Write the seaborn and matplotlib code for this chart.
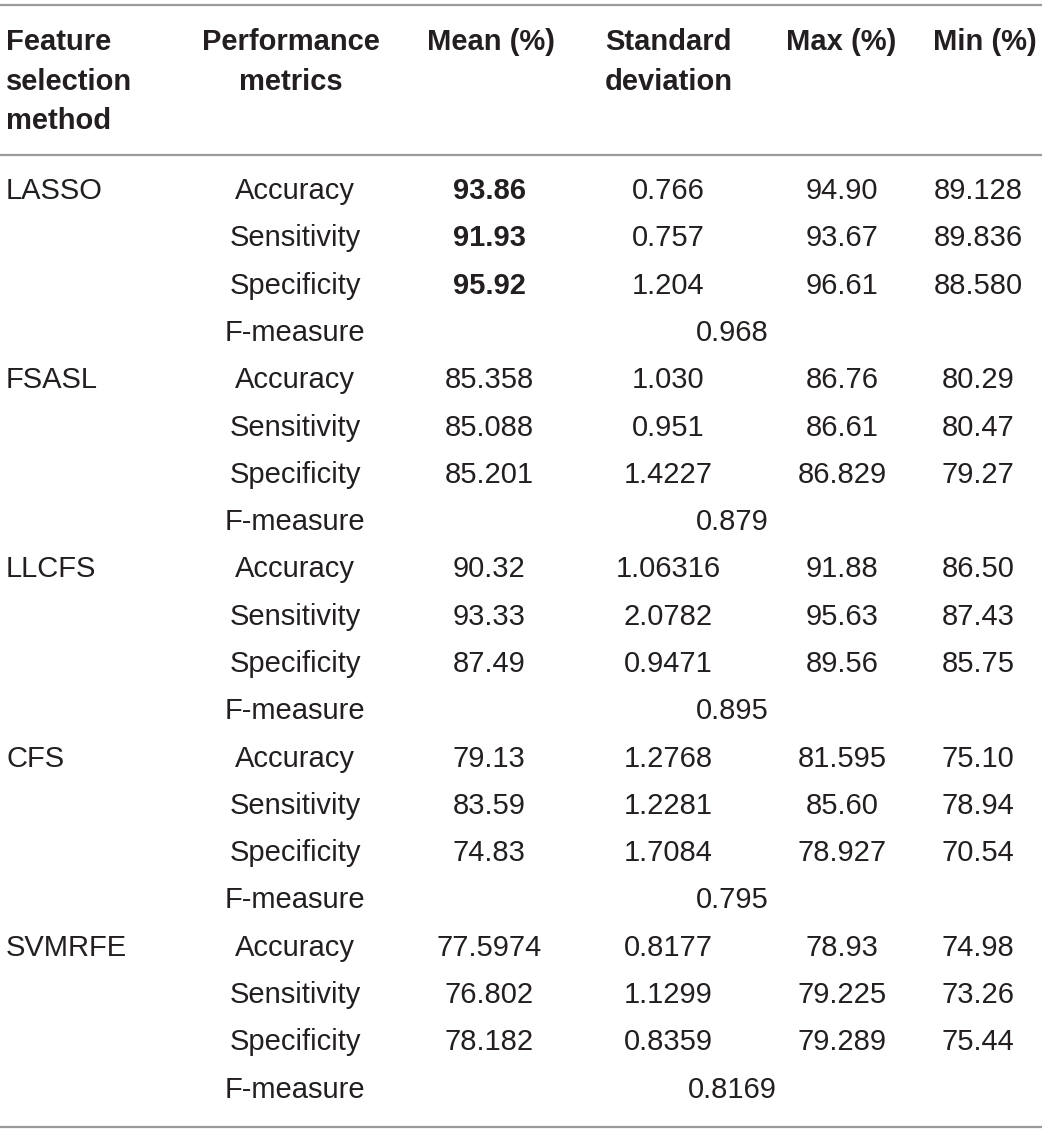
import numpy as np
import matplotlib.pyplot as plt
import seaborn as sns

# table content
methods = ["LASSO", "FSASL", "LLCFS", "CFS", "SVMRFE"]
metrics = ["Accuracy", "Sensitivity", "Specificity"]
mean_vals = [["93.86", "91.93", "95.92"],
             ["85.358", "85.088", "85.201"],
             ["90.32", "93.33", "87.49"],
             ["79.13", "83.59", "74.83"],
             ["77.5974", "76.802", "78.182"]]
std_vals = [["0.766", "0.757", "1.204"],
            ["1.030", "0.951", "1.4227"],
            ["1.06316", "2.0782", "0.9471"],
            ["1.2768", "1.2281", "1.7084"],
            ["0.8177", "1.1299", "0.8359"]]
max_vals = [["94.90", "93.67", "96.61"],
            ["86.76", "86.61", "86.829"],
            ["91.88", "95.63", "89.56"],
            ["81.595", "85.60", "78.927"],
            ["78.93", "79.225", "79.289"]]
min_vals = [["89.128", "89.836", "88.580"],
            ["80.29", "80.47", "79.27"],
            ["86.50", "87.43", "85.75"],
            ["75.10", "78.94", "70.54"],
            ["74.98", "73.26", "75.44"]]
f_measure = ["0.968", "0.879", "0.895", "0.795", "0.8169"]

sns.set_theme(style="white")
plt.rcParams['font.family'] = ['Liberation Sans', 'DejaVu Sans']

W, H = 1042, 1132
fig = plt.figure(figsize=(W / 100, H / 100), dpi=100)
ax = fig.add_axes([0, 0, 1, 1])
ax.set_xlim(0, W)
ax.set_ylim(H, 0)
ax.axis("off")

txt = "#231f20"
line_c = "#9a9a9a"
fs = 21

# rules
for y in (5, 155, 1127):
    ax.plot([0, W], [y, y], color=line_c, lw=1.6, solid_capstyle="butt")

# header, one text per line
hdr = dict(fontsize=fs, fontweight="bold", color=txt, va="center")
hdr_lines = [42, 82, 121]
headers = [(6, "left", ["Feature", "selection", "method"]),
           (291, "center", ["Performance", "metrics"]),
           (491, "center", ["Mean (%)"]),
           (605, "left", ["Standard", "deviation"]),
           (841, "center", ["Max (%)"]),
           (985, "center", ["Min (%)"])]
for x, ha, lines in headers:
    for k, s in enumerate(lines):
        ax.text(x, hdr_lines[k], s, ha=ha, **hdr)

# body
x_metric, x_mean, x_std, x_max, x_min = 295, 489, 668, 842, 978
x_f = 732
y0, dy = 191, 47.3
body = dict(fontsize=fs, color=txt, va="center")
row = 0
for i, m in enumerate(methods):
    for j, met in enumerate(metrics):
        y = y0 + row * dy
        if j == 0:
            ax.text(6, y, m, ha="left", **body)
        ax.text(x_metric, y, met, ha="center", **body)
        ax.text(x_mean, y, mean_vals[i][j], ha="center",
                fontweight="bold" if i == 0 else "normal", **body)
        ax.text(x_std, y, std_vals[i][j], ha="center", **body)
        ax.text(x_max, y, max_vals[i][j], ha="center", **body)
        ax.text(x_min, y, min_vals[i][j], ha="center", **body)
        row += 1
    y = y0 + row * dy
    ax.text(x_metric, y, "F-measure", ha="center", **body)
    ax.text(x_f, y, f_measure[i], ha="center", **body)
    row += 1

fig.savefig("out.png", dpi=100)
